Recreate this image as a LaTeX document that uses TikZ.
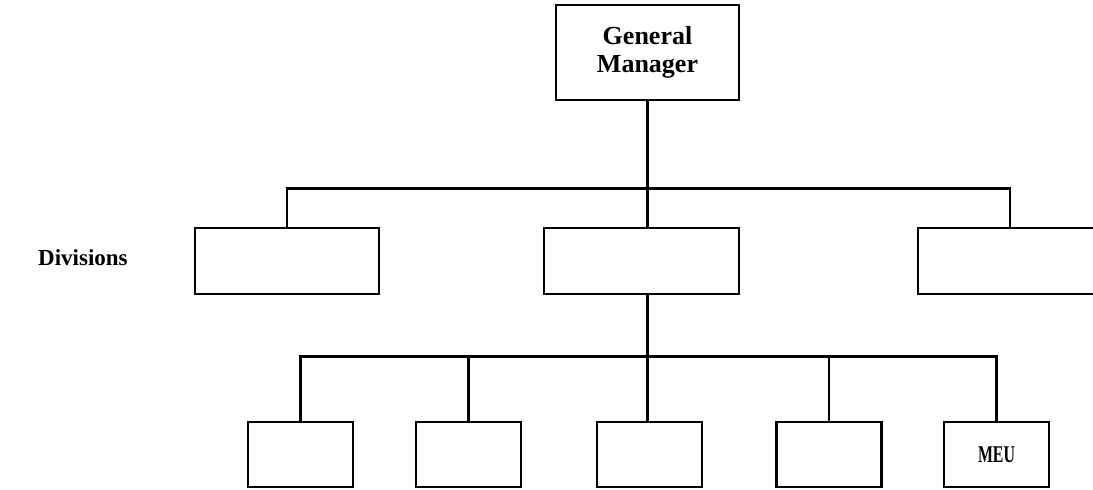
\documentclass[tikz,border=0pt]{standalone}
\usepackage{fontspec}
\setmainfont{Liberation Serif}
\begin{document}
\begin{tikzpicture}[x=1pt,y=-1pt,
  box/.style={draw, line width=2.8pt, inner sep=0pt},
  conn/.style={line width=2.8pt},
  lbl/.style={font=\fontsize{23}{26}\selectfont\bfseries, align=center, inner sep=0pt}]
\useasboundingbox (0,0) rectangle (1093,490);
% top
\node[box, minimum width=183, minimum height=95, lbl, font=\fontsize{26}{28}\selectfont\bfseries] (gm) at (647.5,52.5) {General\\Manager};
% divisions
\node[box, minimum width=184, minimum height=66] (d1) at (287,261) {};
\node[box, minimum width=195, minimum height=66] (d2) at (641.5,261) {};
\node[box, minimum width=184, minimum height=66] (d3) at (1010,261) {};
\node[lbl, anchor=west] (divlbl) at (38,258) {Divisions};
% bottom
\node[box, minimum width=105, minimum height=65] (b1) at (300.5,454.5) {};
\node[box, minimum width=105, minimum height=65] (b2) at (468.5,454.5) {};
\node[box, minimum width=105, minimum height=65] (b3) at (649.5,454.5) {};
\node[box, minimum width=105, minimum height=65] (b4) at (829,454.5) {};
\node[box, minimum width=105, minimum height=65, font=\fontsize{24}{26}\selectfont\bfseries] (b5) at (996.5,454.5) {\scalebox{0.66}[1]{MEU}};
% connectors
\coordinate (top1) at (gm.south |- d2.north);
\coordinate (bot1) at (gm.south |- d2.south);
\draw[conn] (gm.south) -- (top1);
\draw[conn] (d1.north) -- ++(0,-38) -| (d3.north);
\draw[conn] (bot1) -- (bot1 |- b3.north);
\draw[conn] (b1.north) -- ++(0,-64) -| (b5.north);
\draw[conn] (b2.north) -- ++(0,-64);
\draw[conn] (b4.north) -- ++(0,-64);
\end{tikzpicture}
\end{document}
